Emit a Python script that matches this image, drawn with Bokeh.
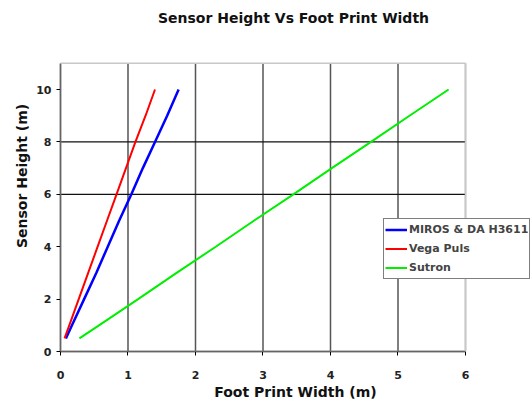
from bokeh.plotting import figure
from bokeh.models import Range1d, FixedTicker, Legend, LegendItem, BoxAnnotation, Label
from bokeh.embed import file_html
from bokeh.resources import INLINE

heights = [0.5, 1, 2, 3, 4, 5, 6, 7, 8, 9, 10]
miros_width = [0.08, 0.17, 0.35, 0.53, 0.70, 0.87, 1.05, 1.22, 1.40, 1.58, 1.75]
vega_width = [0.06, 0.13, 0.27, 0.41, 0.55, 0.69, 0.83, 0.97, 1.11, 1.26, 1.40]
sutron_width = [0.28, 0.57, 1.15, 1.72, 2.30, 2.87, 3.45, 4.02, 4.60, 5.17, 5.75]

x_ticks = [0, 1, 2, 3, 4, 5, 6]
y_ticks = [0, 2, 4, 6, 8, 10]
h_grid = [6, 8]
v_grid = [1, 2, 3, 4, 5]
x_max, y_max = 6, 11
title_text = "Sensor Height Vs Foot Print Width"

FONT = "DejaVu Sans"

p = figure(width=530, height=402, output_backend="svg", toolbar_location=None,
           x_range=Range1d(0, 6.963), y_range=Range1d(0, 13.398),
           min_border_left=60, min_border_right=0, min_border_top=0, min_border_bottom=50)
p.title.visible = False

p.xgrid.visible = False
p.ygrid.visible = False
p.outline_line_color = None
p.background_fill_color = "white"
p.border_fill_color = "white"

p.add_layout(BoxAnnotation(left=0, right=x_max, bottom=0, top=y_max, fill_alpha=0,
                           line_color="#c8c8c8", line_width=1.5, line_alpha=1))
p.segment(x0=v_grid, x1=v_grid, y0=[0] * len(v_grid), y1=[y_max] * len(v_grid),
          line_color="#555555", line_width=1.5)
p.segment(x0=[x_max], x1=[x_max], y0=[0], y1=[y_max], line_color="#cccccc", line_width=2)
p.segment(x0=[0] * len(h_grid), x1=[x_max] * len(h_grid), y0=h_grid, y1=h_grid,
          line_color="#111111", line_width=1.2)

p.add_layout(Label(x=233, y=334, x_units="screen", y_units="screen", text=title_text,
                   text_font=FONT, text_font_size="14px", text_font_style="bold",
                   text_color="#111111", text_align="center", text_baseline="middle"))

for ax in (p.xaxis[0], p.yaxis[0]):
    ax.axis_line_color = "black"
    ax.axis_line_width = 1.5
    ax.major_tick_line_color = "black"
    ax.major_tick_in = 0
    ax.major_tick_out = 4
    ax.minor_tick_line_color = None
    ax.major_label_text_font = FONT
    ax.major_label_text_font_style = "bold"
    ax.major_label_text_font_size = "11px"
    ax.major_label_text_color = "#222222"
    ax.axis_label_text_font = FONT
    ax.axis_label_text_font_style = "bold"
    ax.axis_label_text_font_size = "14px"
    ax.axis_label_text_color = "#111111"

p.xaxis.ticker = FixedTicker(ticks=x_ticks)
p.yaxis.ticker = FixedTicker(ticks=y_ticks)
p.xaxis.bounds = (0, x_max)
p.yaxis.bounds = (0, y_max)
p.xaxis.axis_label = "Foot Print Width (m)"
p.yaxis.axis_label = "Sensor Height (m)"
p.xaxis.major_label_standoff = 15
p.xaxis.axis_label_standoff = 2
p.yaxis.major_label_standoff = 5
p.yaxis.axis_label_standoff = 3

r1 = p.line(miros_width, heights, line_color="#0000ff", line_width=2.5)
r2 = p.line(vega_width, heights, line_color="#ff0000", line_width=2)
r3 = p.line(sutron_width, heights, line_color="#00ee00", line_width=2)

legend = Legend(items=[LegendItem(label="MIROS & DA H3611", renderers=[r1]),
                       LegendItem(label="Vega Puls", renderers=[r2]),
                       LegendItem(label="Sutron", renderers=[r3])],
                location=(323, 72), orientation="vertical")
legend.label_text_font = FONT
legend.label_text_font_style = "bold"
legend.label_text_font_size = "11px"
legend.label_height = 19
legend.glyph_height = 19
legend.glyph_width = 22
legend.spacing = 0
legend.padding = 1
legend.margin = 0
legend.label_standoff = 2
legend.border_line_color = "black"
legend.border_line_width = 1
legend.background_fill_color = "white"
legend.background_fill_alpha = 1
p.add_layout(legend, "center")

open("out.html", "w").write(file_html(p, INLINE))
